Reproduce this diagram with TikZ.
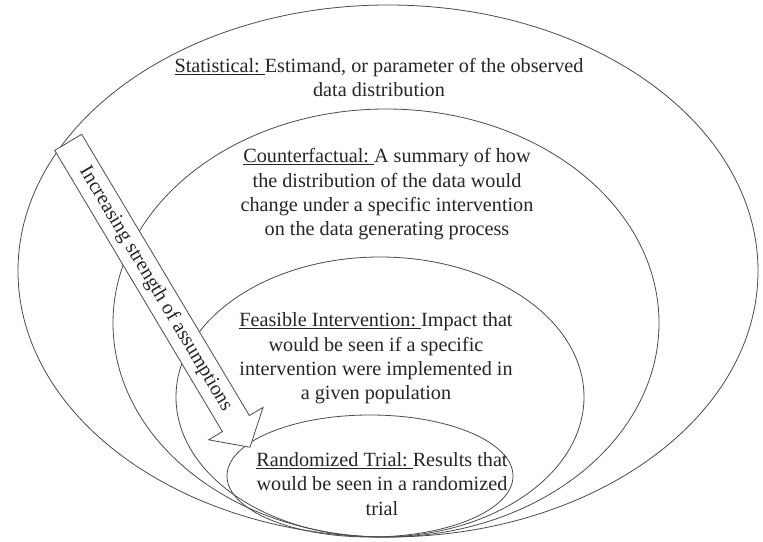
\documentclass[tikz,border=0pt]{standalone}
\usepackage{fontspec}
\setmainfont{Liberation Serif}
\usetikzlibrary{shapes.geometric, shapes.arrows}
\tikzstyle{layer} = [ellipse, draw=black!70, line width=0.8pt, inner sep=0pt]
\tikzstyle{desc} = [align=center, text=black!85, font=\fontsize{20.2}{24.3}\selectfont]
\tikzstyle{bigarrow} = [single arrow, draw=black!70, fill=white, line width=0.8pt, single arrow head extend=16pt, single arrow tip angle=98, single arrow head indent=0pt, inner sep=6pt, text=black!85, font=\fontsize{20.2}{24.3}\selectfont]

\begin{document}
\begin{tikzpicture}[x=1pt, y=1pt]
\path[fill=white, use as bounding box] (0,0) rectangle (763,541);
% nested ellipses, all touching at the bottom
\node (stat) [layer, minimum width=740pt, minimum height=532pt] at (388,270) {};
\node (cf) [layer, minimum width=546pt, minimum height=428pt] at (386,218) {};
\node (feas) [layer, minimum width=408pt, minimum height=280pt] at (380,144) {};
\node (rct) [layer, minimum width=286pt, minimum height=122pt] at (370,65) {};

\node (stattext) [desc] at (379,463.5) {\underline{Statistical:\ }Estimand, or parameter of the observed\\data distribution};
\node (cftext) [desc] at (387,346.5) {\underline{Counterfactual:\ }A summary of how\\the distribution of the data would\\change under a specific intervention\\on the data generating process};
\node (feastext) [desc] at (376,182.5) {\underline{Feasible Intervention:\ }Impact that\\would be seen if a specific\\intervention were implemented in\\a given population};
\node (rcttext) [desc] at (382,57) {\underline{Randomized Trial:\ }Results that\\would be seen in a randomized\\trial};

% direction of the assumptions
\node (strength) [bigarrow, rotate=-59.2, anchor=tail, minimum height=355pt] at (68,399) {Increasing strength of assumptions};
\end{tikzpicture}
\end{document}
